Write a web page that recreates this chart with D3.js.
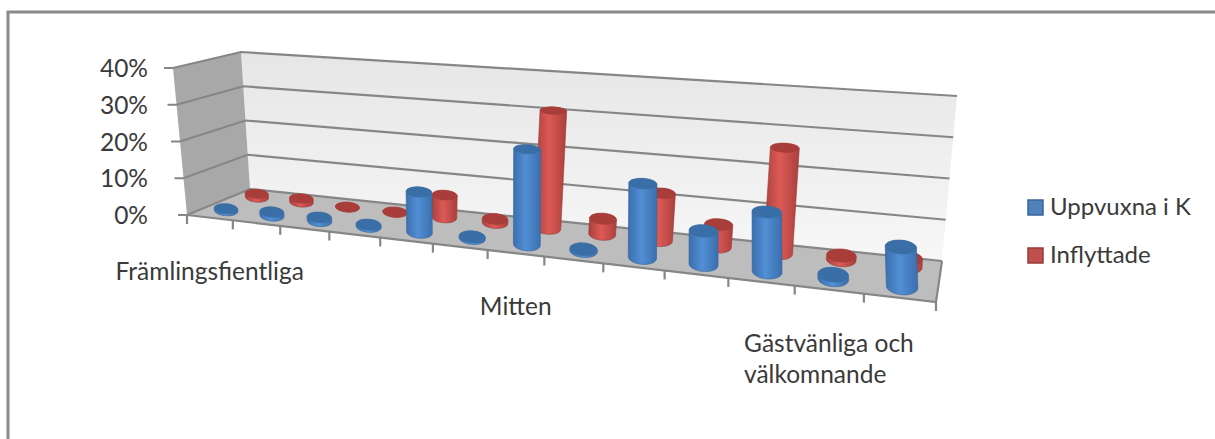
<!DOCTYPE html>
<html>
<head>
<meta charset="utf-8">
<script src="https://cdn.jsdelivr.net/npm/d3@7"></script>
<style>
  html, body { margin: 0; padding: 0; background: #fff; }
  text { font-family: Lato, "Open Sans", sans-serif; fill: #3a3a3a; }
</style>
</head>
<body>
<div id="chart"></div>
<script>
// DATA
const categories = d3.range(1, 14);
const uppvuxna = [0.5, 1, 1, 0.5, 10.5, 0.4, 24, 0.4, 18, 8, 14, 1, 9];
const inflyttade = [1, 1, 0, 0, 6, 1, 31, 4, 12, 5.5, 26, 1, 2];
const yTicks = [0, 10, 20, 30, 40];
const seriesNames = ["Uppvuxna i K", "Inflyttade"];
const axisLabels = [
  { cat: 1, lines: ["Främlingsfientliga"] },
  { cat: 7, lines: ["Mitten"] },
  { cat: 12, lines: ["Gästvänliga och", "välkomnande"] }
];

const width = 1215;
const height = 439;

// corners of the 3d box as they land on the page
const floorQuad = [[187, 215], [936, 302], [942, 261], [250, 189]];
const topQuad = [[173, 68], [921, 118], [957, 96], [241, 52]];

// unit square -> quad
function quadMap(q) {
  const [[x0, y0], [x1, y1], [x2, y2], [x3, y3]] = q;
  const dx1 = x1 - x2, dx2 = x3 - x2, sx = x0 - x1 + x2 - x3;
  const dy1 = y1 - y2, dy2 = y3 - y2, sy = y0 - y1 + y2 - y3;
  const den = dx1 * dy2 - dx2 * dy1;
  const g = (sx * dy2 - dx2 * sy) / den;
  const h = (dx1 * sy - sx * dy1) / den;
  const a = x1 - x0 + g * x1, b = x3 - x0 + h * x3;
  const d = y1 - y0 + g * y1, e = y3 - y0 + h * y3;
  return (u, v) => {
    const w = g * u + h * v + 1;
    return [(a * u + b * v + x0) / w, (d * u + e * v + y0) / w];
  };
}
const floorMap = quadMap(floorQuad);
const topMap = quadMap(topQuad);

// SCALES
const xScale = d3.scaleBand().domain(categories).range([0, 1]);
const yScale = d3.scaleLinear().domain([0, 40]).range([0, 1]);
const depth = { "Uppvuxna i K": 0.25, "Inflyttade": 0.75 };
const colors = {
  "Uppvuxna i K": { top: "#3a6ea6", side: "#3a6fae", mid: "#528fd4", swatch: "#4f81bd", edge: "#3a6596" },
  "Inflyttade": { top: "#a83d3a", side: "#ab3f3c", mid: "#dc5a56", swatch: "#c0504d", edge: "#963c39" }
};

// u along the categories, v into the depth, val in percent
function project(u, v, val) {
  const b = floorMap(u, v), t = topMap(u, v), k = yScale(val);
  return [b[0] + (t[0] - b[0]) * k, b[1] + (t[1] - b[1]) * k];
}

const svg = d3.select("#chart").append("svg")
  .attr("width", width)
  .attr("height", height)
  .style("display", "block");

const defs = svg.append("defs");
seriesNames.forEach((s, i) => {
  const g = defs.append("linearGradient").attr("id", "body" + i);
  g.append("stop").attr("offset", "0%").attr("stop-color", colors[s].side);
  g.append("stop").attr("offset", "45%").attr("stop-color", colors[s].mid);
  g.append("stop").attr("offset", "100%").attr("stop-color", colors[s].side);
});
const wallGrad = defs.append("linearGradient").attr("id", "wall")
  .attr("x1", 0).attr("y1", 0).attr("x2", 0).attr("y2", 1);
wallGrad.append("stop").attr("offset", "0%").attr("stop-color", "#e6e6e6");
wallGrad.append("stop").attr("offset", "100%").attr("stop-color", "#f7f7f7");

// outer frame, the picture cuts it off on the right and at the bottom
svg.append("rect")
  .attr("x", 8).attr("y", 12)
  .attr("width", 1230).attr("height", 460)
  .attr("fill", "#fff")
  .attr("stroke", "#8a8a8a")
  .attr("stroke-width", 3);

const line = d3.line();
const poly = pts => line(pts) + "Z";

// WALLS AND FLOOR
svg.append("path")
  .attr("d", poly([project(0, 1, 0), project(1, 1, 0), project(1, 1, 40), project(0, 1, 40)]))
  .attr("fill", "url(#wall)");
svg.append("path")
  .attr("d", poly([project(0, 0, 0), project(0, 1, 0), project(0, 1, 40), project(0, 0, 40)]))
  .attr("fill", "#a8a8a8");
svg.append("path")
  .attr("d", poly([project(0, 0, 0), project(1, 0, 0), project(1, 1, 0), project(0, 1, 0)]))
  .attr("fill", "#bdbdbd");

// GRIDLINES + y axis
const grid = svg.append("g")
  .attr("fill", "none")
  .attr("stroke", "#868686")
  .attr("stroke-width", 2.2);
yTicks.forEach(t => {
  const front = project(0, 0, t);
  grid.append("path").attr("d", line([[front[0] - 9, front[1]], front, project(0, 1, t), project(1, 1, t)]));
  svg.append("text")
    .attr("x", 148)
    .attr("y", front[1] + 9)
    .attr("text-anchor", "end")
    .style("font-size", "24.5px")
    .text(t + "%");
});

// x axis
grid.append("path").attr("d", line([project(0, 0, 0), project(1, 0, 0), project(1, 1, 0)]));
[0].concat(categories.map(c => xScale(c) + xScale.bandwidth())).forEach(u => {
  const p = project(u, 0, 0);
  grid.append("path").attr("d", line([p, [p[0], p[1] + 9]]));
});

// CYLINDERS
const radiusU = xScale.bandwidth() * 0.235;
const radiusV = 0.19;
const steps = d3.range(0, 2 * Math.PI, Math.PI / 24);

function drawSeries(name, values, idx) {
  const v0 = depth[name];
  const g = svg.append("g").attr("class", "series-" + idx);
  categories.forEach((c, i) => {
    const u0 = xScale(c) + xScale.bandwidth() / 2;
    // upright ellipse around the projected centre, no shear from the floor
    const ring = val => {
      const m = project(u0, v0, val);
      const e = project(u0 + radiusU, v0, val);
      // the bars grow less with perspective than the floor does
      const rx = (e[0] - m[0]) * 0.667 + 4.7;
      const ry = m[1] - project(u0, v0 + radiusV, val)[1];
      return steps.map(a => [
        m[0] + rx * Math.cos(a),
        m[1] + (e[1] - m[1]) * Math.cos(a) * 0.6 + ry * Math.sin(a)
      ]);
    };
    const body = d3.polygonHull(ring(0).concat(ring(values[i])));
    g.append("path")
      .attr("d", poly(body))
      .attr("fill", `url(#body${idx})`)
      .attr("stroke", colors[name].edge)
      .attr("stroke-width", 0.6);
    g.append("path")
      .attr("d", poly(ring(values[i])))
      .attr("fill", colors[name].top);
  });
}
drawSeries("Inflyttade", inflyttade, 1);
drawSeries("Uppvuxna i K", uppvuxna, 0);

// CATEGORY LABELS
axisLabels.forEach(d => {
  const p = project(xScale(d.cat) + xScale.bandwidth() / 2, 0, 0);
  const label = svg.append("text")
    .attr("y", p[1] + 62)
    .style("font-size", "24.5px");
  d.lines.forEach((l, i) => {
    label.append("tspan").attr("x", 0).attr("dy", i ? 31 : 0).text(l);
  });
  const w = label.node().getBBox().width;
  label.selectAll("tspan").attr("x", p[0] - w / 2);
});

// LEGEND
const legend = svg.append("g");
seriesNames.forEach((s, i) => {
  legend.append("rect")
    .attr("x", 1028).attr("y", 200 + i * 48)
    .attr("width", 15).attr("height", 15)
    .attr("fill", colors[s].swatch)
    .attr("stroke", colors[s].edge)
    .attr("stroke-width", 1.5);
  legend.append("text")
    .attr("x", 1050).attr("y", 215 + i * 48)
    .style("font-size", "24px")
    .text(s);
});
</script>
</body>
</html>
